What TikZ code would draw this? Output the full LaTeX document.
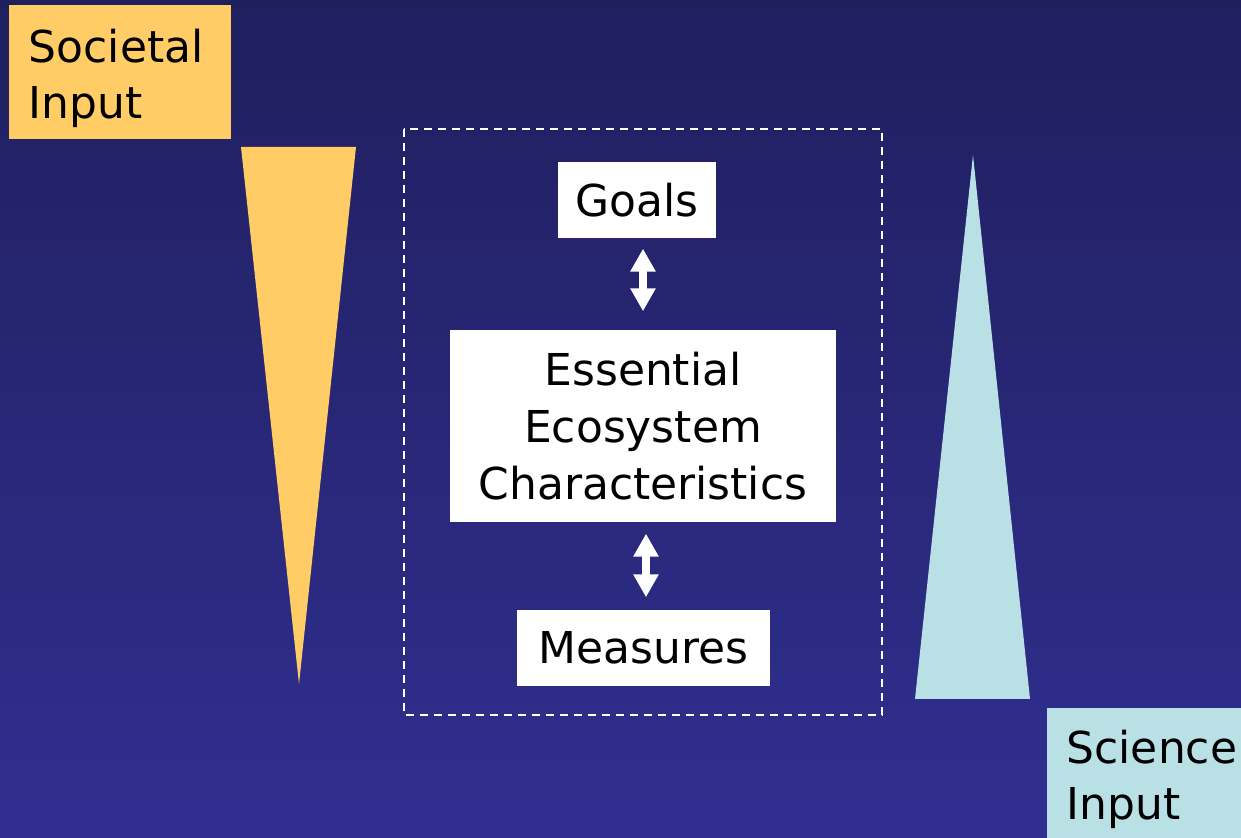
\documentclass[tikz,border=0pt]{standalone}
\usepackage{fontspec}
\setmainfont{DejaVu Sans}
\usetikzlibrary{arrows.meta}

\definecolor{bgtop}{RGB}{32,31,94}
\definecolor{bgbottom}{RGB}{48,47,144}
\definecolor{societal}{RGB}{255,204,102}
\definecolor{science}{RGB}{185,224,228}

\tikzset{
  whitebox/.style={fill=white, inner sep=0pt, align=center, font=\fontsize{12.5}{16.3}\selectfont},
  inputbox/.style={inner xsep=0.2cm, inner ysep=0pt, text height=0.46cm, align=left, font=\fontsize{12.5}{16}\selectfont},
  bothway/.style={white, line width=0.08cm, {Triangle[width=0.24cm,length=0.23cm]}-{Triangle[width=0.24cm,length=0.23cm]}}
}

\begin{document}
\begin{tikzpicture}
  
  \useasboundingbox (0,0) rectangle (12.41,8.38);
  \shade[top color=bgtop, bottom color=bgbottom] (0,0) rectangle (12.41,8.38);
  
  % input boxes
  \node[inputbox, fill=societal, text width=1.82cm, minimum height=1.34cm] (Societal) at (1.20,7.66) {Societal\\Input};
  \node[inputbox, fill=science, text width=1.75cm, minimum height=1.30cm, anchor=west] (Science) at (10.46,0.65) {Science\\Input};
  
  % wedges
  \fill[societal] (2.41,6.91) -- (3.56,6.91) -- (2.99,1.54) -- cycle;
  \fill[science] (9.73,6.83) -- (10.30,1.39) -- (9.15,1.39) -- cycle;
  
  % dashed frame
  \draw[white, line width=0.02cm, dash pattern=on 0.08cm off 0.06cm] (4.04,7.09) rectangle (8.82,1.23);
  
  \node[whitebox, minimum width=1.58cm, minimum height=0.76cm] (Goals) at (6.37,6.38) {Goals};
  \node[whitebox, minimum width=3.86cm, minimum height=1.92cm] (EEC) at (6.43,4.12) {Essential\\Ecosystem\\Characteristics};
  \node[whitebox, minimum width=2.53cm, minimum height=0.76cm] (Measures) at (6.435,1.90) {Measures};
  
  \draw[bothway, shorten <=0.10cm, shorten >=0.18cm] (Goals.south -| EEC.north) -- (EEC.north);
  \draw[bothway, shorten <=0.11cm, shorten >=0.12cm] ([xshift=0.03cm]EEC.south) -- ([xshift=0.03cm]Measures.north -| EEC.south);
  
\end{tikzpicture}
\end{document}
